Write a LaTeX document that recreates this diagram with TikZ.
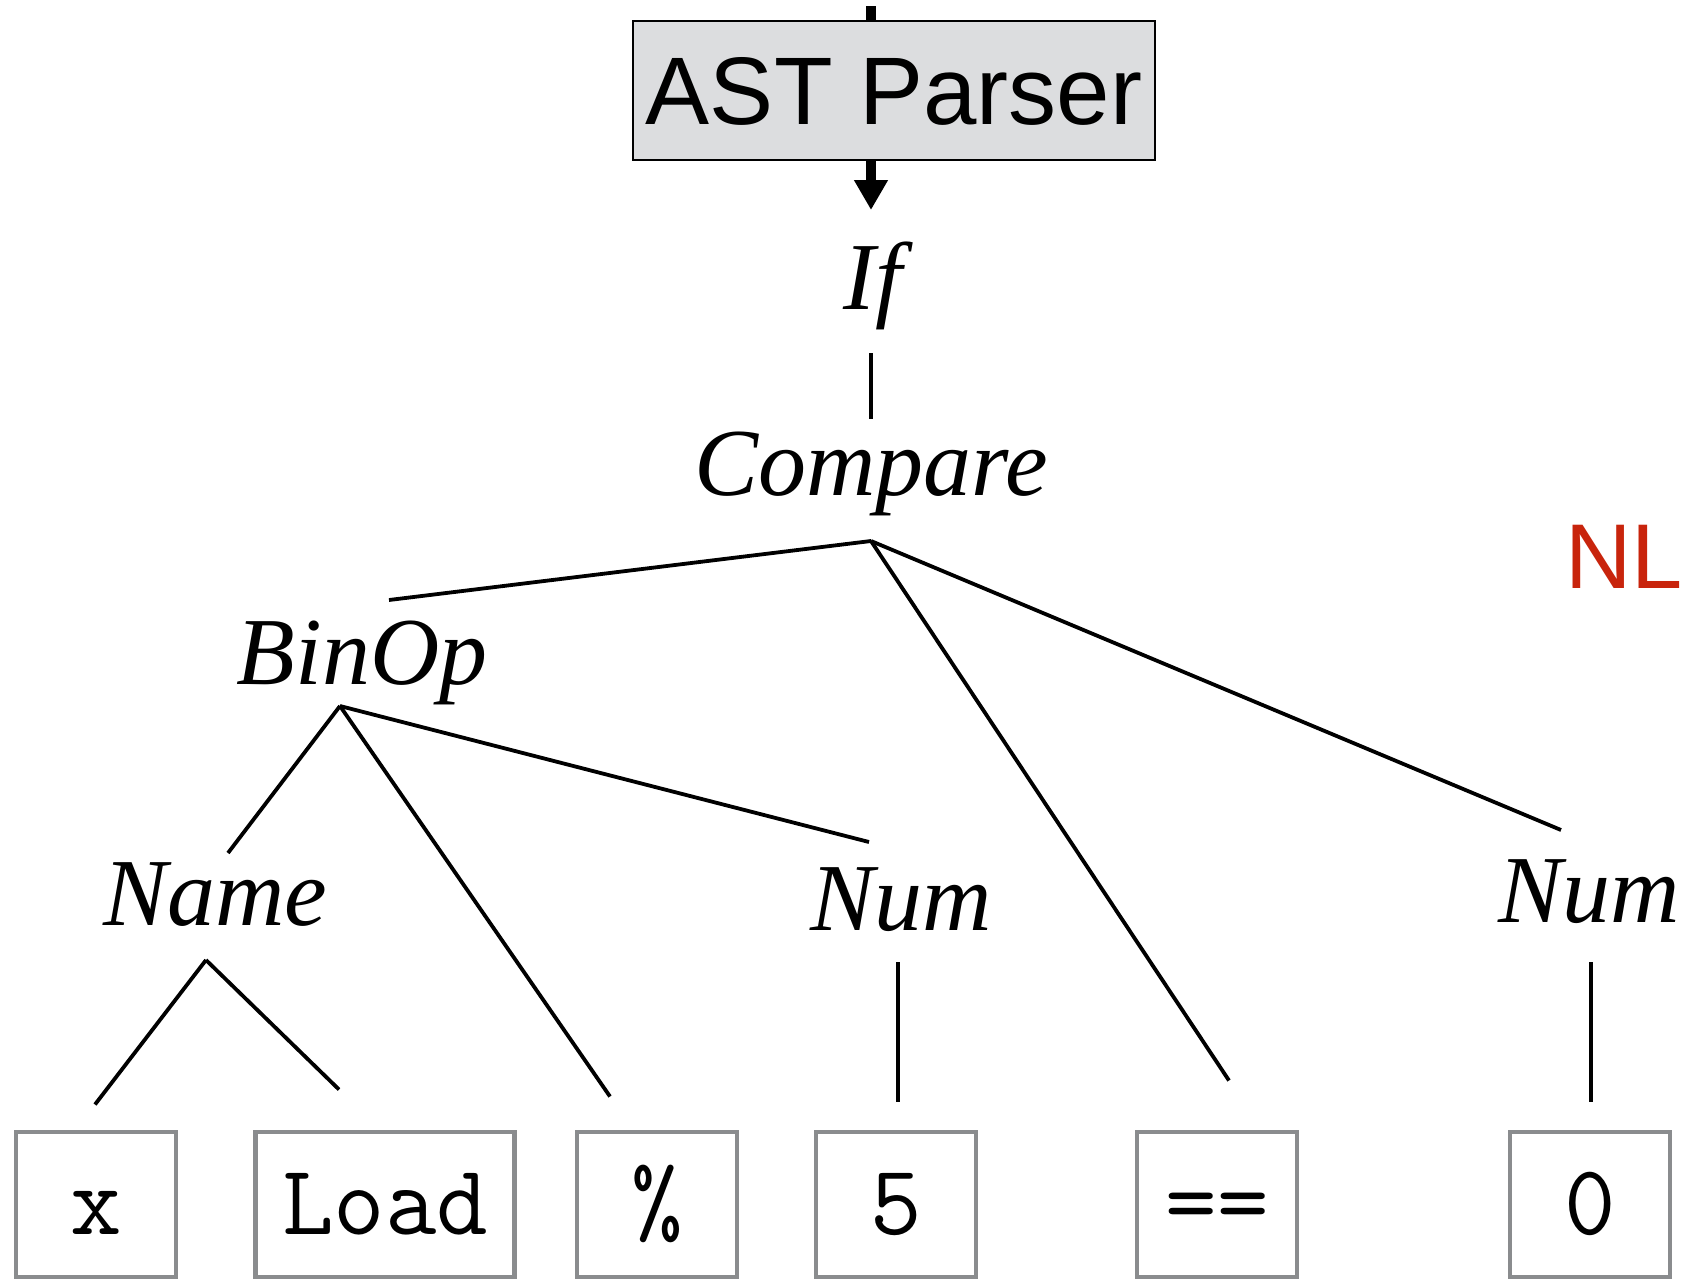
\documentclass[tikz,border=0pt]{standalone}
\usepackage{fontspec}
\setmainfont{Liberation Serif}
\setsansfont{Liberation Sans}
\usetikzlibrary{positioning}
\usetikzlibrary{calc}
\usetikzlibrary{arrows.meta}
\definecolor{parsergray}{RGB}{220,221,223}
\definecolor{tokengray}{RGB}{138,140,142}
\definecolor{nlred}{RGB}{200,36,12}

\tikzset{
  astnode/.style={font=\fontsize{48}{52}\selectfont\itshape, inner sep=0pt},
  token/.style={draw=tokengray, line width=2.2pt, font=\fontsize{50}{54}\selectfont\ttfamily,
    minimum width=80pt, minimum height=72.5pt, text height=30pt, text depth=0pt, inner sep=0pt},
  branch/.style={line width=1.9pt},
}

\begin{document}
\begin{tikzpicture}[x=0.5pt, y=-0.5pt]

\useasboundingbox (0,0) rectangle (1686,1280);


\node[draw, fill=parsergray, line width=1.2pt, minimum width=261pt, minimum height=69.5pt,
  inner sep=0pt, text height=34pt, text depth=0pt, font=\fontsize{48}{52}\selectfont\sffamily]
  (parser) at (894,90.5) {AST Parser};
\coordinate (input) at (871,6);


{
\node[astnode] (if) at (873,286) {If};
\node[astnode] (compare) at (871,474) {Compare};
\node[astnode] (binop) at (362,663) {BinOp};
\node[astnode] (name) at (215,895) {Name};
\node[astnode] (numA) at (901,900) {Num};
\node[astnode] (numB) at (1589,892) {Num};
}

{
\node[token] (tx) at (96,1204.5) {x};
\node[token, minimum width=129.5pt] (tload) at (385,1204.5) {Load};
\node[token] (tmod) at (657,1204.5) {\%};
\node[token] (tfive) at (896,1204.5) {5};
\node[token] (teq) at (1217,1204.5) {==};
\node[token] (tzero) at (1590,1204.5) {0};
}

\node[font=\fontsize{46}{50}\selectfont\sffamily, text=nlred, inner sep=0pt] (nl) at (1624,557) {NL};


\draw[line width=5pt] (input) -- ($(parser.north)+(-23,0)$);
\draw[line width=5pt, -{Triangle[length=15pt,width=16pt]}] ($(parser.south)+(-23,0)$) -- ($(if.center)+(-2,-76)$);

\draw[branch] ($(if.center)+(-2,67)$) -- ($(compare.center)+(0,-55)$);

\draw[branch] ($(compare.center)+(0,67)$) -- ($(binop.center)+(27,-63)$);
\draw[branch] ($(compare.center)+(0,67)$) -- ($(teq.center)+(12,-124)$);
\draw[branch] ($(compare.center)+(0,67)$) -- ($(numB.center)+(-28,-62)$);

\draw[branch] ($(binop.center)+(-22,43)$) -- ($(name.center)+(13,-42)$);
\draw[branch] ($(binop.center)+(-22,43)$) -- ($(tmod.center)+(-47,-108)$);
\draw[branch] ($(binop.center)+(-22,43)$) -- ($(numA.center)+(-32,-58)$);

\draw[branch] ($(name.center)+(-9,65)$) -- ($(tx.center)+(-1,-100)$);
\draw[branch] ($(name.center)+(-9,65)$) -- ($(tload.center)+(-46,-115)$);

\draw[branch] ($(numA.center)+(-3,62)$) -- ($(tfive.center)+(2,-103)$);
\draw[branch] ($(numB.center)+(2,70)$) -- ($(tzero.center)+(1,-103)$);

\end{tikzpicture}
\end{document}
